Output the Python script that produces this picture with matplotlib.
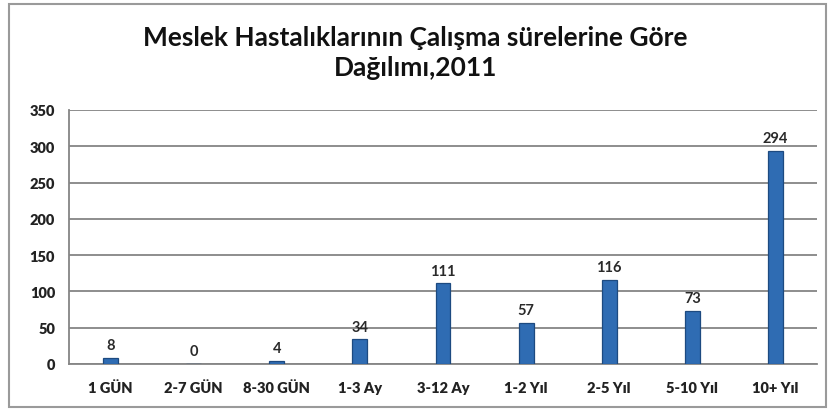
import matplotlib
matplotlib.use("Agg")
import matplotlib.pyplot as plt
from matplotlib.patches import Rectangle

categories = ["1 GÜN", "2-7 GÜN", "8-30 GÜN", "1-3 Ay", "3-12 Ay", "1-2 Yıl", "2-5 Yıl", "5-10 Yıl", "10+ Yıl"]
values = [8, 0, 4, 34, 111, 57, 116, 73, 294]
yticks = [0, 50, 100, 150, 200, 250, 300, 350]
title = "Meslek Hastalıklarının Çalışma sürelerine Göre\nDağılımı,2011"

plt.rcParams['font.family'] = ['Lato', 'DejaVu Sans']

fig = plt.figure(figsize=(8.31, 4.10), dpi=100)
W, H = 831, 410
ax = fig.add_axes([69 / W, 1 - 365 / H, (817 - 69) / W, (365 - 111) / H])

x = list(range(len(categories)))
bars = ax.bar(x, values, width=0.18, color="#2F6CB3", edgecolor="#1D4A80", linewidth=0.9, zorder=3)
for xi, v in zip(x, values):
    ax.text(xi, v + 8, str(v), ha="center", va="bottom", fontsize=10.5, fontweight="bold",
            color="#2a2a2a", zorder=4)

ax.set_xlim(-0.5, len(categories) - 0.5)
ax.set_ylim(0, 350)
ax.set_yticks(yticks)
ax.set_yticklabels([str(t) for t in yticks], fontsize=10.5, fontweight="heavy", color="#222222")
ax.set_xticks(x)
ax.set_xticklabels(categories, fontsize=10.5, fontweight="heavy", color="#222222")
ax.tick_params(axis="both", length=0, pad=10)
ax.tick_params(axis="x", pad=12)
ax.grid(axis="y", color="#858585", linewidth=1.3, zorder=0)
for s in ["top", "right"]:
    ax.spines[s].set_visible(False)
ax.spines["left"].set_color("#858585")
ax.spines["bottom"].set_color("#858585")
ax.spines["left"].set_linewidth(1.3)
ax.spines["bottom"].set_linewidth(1.3)

fig.text(0.5, 1 - 53 / H, title, ha="center", va="center", fontsize=19, fontweight="bold",
         color="#111111", linespacing=1.3)

fig.patches.append(Rectangle((9 / W, 2 / H), (826 - 9) / W, (405 - 2) / H, transform=fig.transFigure,
                             fill=False, edgecolor="#9A9A9A", linewidth=1.5))

fig.savefig("out.png", dpi=100)
